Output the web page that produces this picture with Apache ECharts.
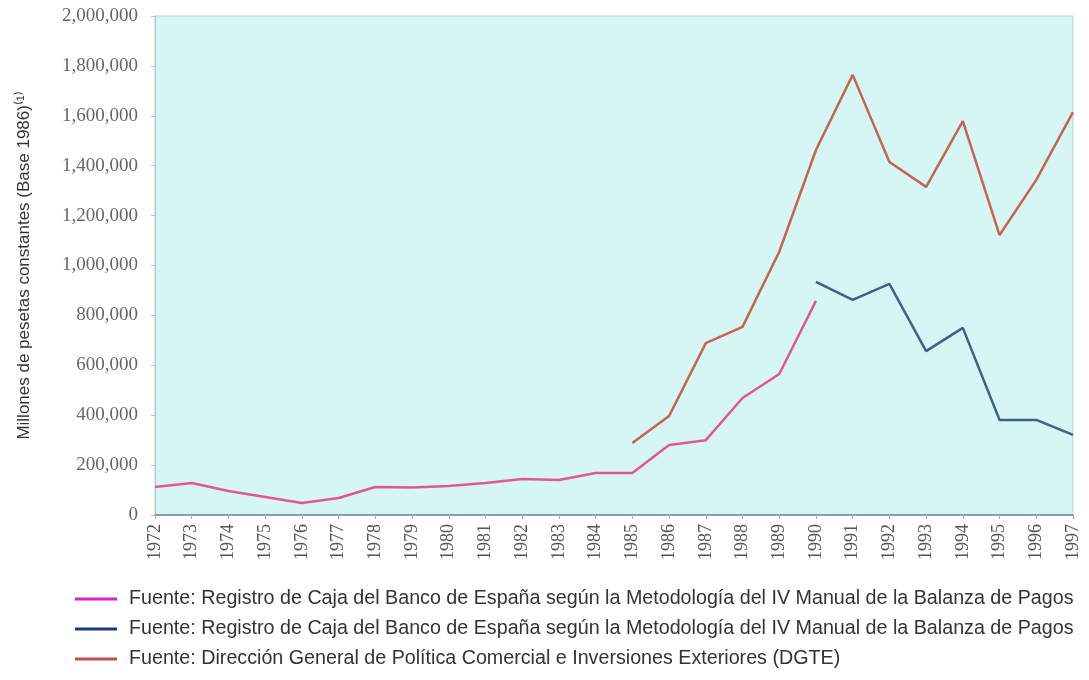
<!DOCTYPE html>
<html>
<head>
<meta charset="utf-8">
<script src="https://cdn.jsdelivr.net/npm/echarts@6/dist/echarts.min.js"></script>
<style>
  html, body { margin: 0; padding: 0; background: #fff; }
  #chart { width: 1089px; height: 680px; }
</style>
</head>
<body>
<div id="chart"></div>
<script>
// años del eje horizontal
var years = ['1972','1973','1974','1975','1976','1977','1978','1979','1980','1981','1982','1983','1984',
  '1985','1986','1987','1988','1989','1990','1991','1992','1993','1994','1995','1996','1997'];

// Registro de Caja, metodología anterior (1972-1990)
var cajaAntigua = [112000,128000,96000,72000,48000,68000,112000,110000,116000,128000,144000,140000,168000,
  168000,281000,300000,469000,565000,858000,null,null,null,null,null,null,null];

// Registro de Caja, IV Manual (1990-1997)
var cajaNueva = [null,null,null,null,null,null,null,null,null,null,null,null,null,
  null,null,null,null,null,934000,862000,926000,657000,750000,381000,381000,321000];

// DGTE (1985-1997)
var dgte = [null,null,null,null,null,null,null,null,null,null,null,null,null,
  289000,397000,689000,754000,1055000,1463000,1764000,1415000,1315000,1579000,1122000,1343000,1615000];

var yTicks = [0,200000,400000,600000,800000,1000000,1200000,1400000,1600000,1800000,2000000];

var nombreCaja = 'Fuente: Registro de Caja del Banco de España según la Metodología del IV Manual de la Balanza de Pagos';
var nombreDgte = 'Fuente: Dirección General de Política Comercial e Inversiones Exteriores (DGTE)';

var chart = echarts.init(document.getElementById('chart'));

var option = {
  animation: false,
  grid: {
    left: 155, right: 16, top: 16, bottom: 165,
    show: true,
    backgroundColor: '#d6f6f5',
    borderColor: '#c2cccc',
    borderWidth: 1
  },
  legend: {
    orient: 'vertical',
    left: 75,
    top: 589,
    height: 120,
    padding: 0,
    itemWidth: 42,
    itemHeight: 3,
    itemGap: 10,
    textStyle: {
      fontFamily: 'Liberation Sans',
      fontSize: 19.7,
      color: '#333',
      padding: [0, 0, 0, 7]
    },
    formatter: function (name) { return name.replace('\u200b', ''); },
    data: [
      { name: nombreCaja, icon: 'rect', itemStyle: { color: '#e020c8' } },
      { name: nombreCaja + '\u200b', icon: 'rect', itemStyle: { color: '#1d3a76' } },
      { name: nombreDgte, icon: 'rect', itemStyle: { color: '#c0524e' } }
    ]
  },
  xAxis: {
    type: 'category',
    data: years,
    boundaryGap: false,
    axisLine: { lineStyle: { color: '#6f8b8b', width: 1.5 } },
    axisTick: { show: true, length: 4, lineStyle: { color: '#aab' } },
    axisLabel: {
      rotate: 90,
      margin: 9,
      fontFamily: 'Liberation Serif',
      fontSize: 18,
      color: '#555'
    }
  },
  yAxis: {
    type: 'value',
    min: yTicks[0],
    max: yTicks[yTicks.length - 1],
    interval: 200000,
    name: 'Millones de pesetas constantes (Base 1986)\u207d\u00b9\u207e',
    nameLocation: 'middle',
    nameGap: 122,
    nameTextStyle: { fontFamily: 'Liberation Sans', fontSize: 17, color: '#333' },
    axisLine: { show: true, lineStyle: { color: '#b8c4c4' } },
    axisTick: { show: true, length: 4, lineStyle: { color: '#b8c4c4' } },
    splitLine: { show: false },
    axisLabel: {
      margin: 17,
      fontFamily: 'Liberation Serif',
      fontSize: 19,
      color: '#666',
      formatter: function (v) { return v.toLocaleString('en-US'); }
    }
  },
  series: [
    {
      name: nombreCaja,
      type: 'line',
      data: cajaAntigua,
      symbol: 'none',
      lineStyle: { color: '#e2588a', width: 2.5 },
      itemStyle: { color: '#e020c8' }
    },
    {
      name: nombreCaja + '\u200b',
      type: 'line',
      data: cajaNueva,
      symbol: 'none',
      lineStyle: { color: '#3d6288', width: 2.5 },
      itemStyle: { color: '#1d3a76' }
    },
    {
      name: nombreDgte,
      type: 'line',
      data: dgte,
      symbol: 'none',
      lineStyle: { color: '#c8644e', width: 2.5 },
      itemStyle: { color: '#c0524e' }
    }
  ]
};

chart.setOption(option);
window.addEventListener('resize', function () { chart.resize(); });
</script>
</body>
</html>
